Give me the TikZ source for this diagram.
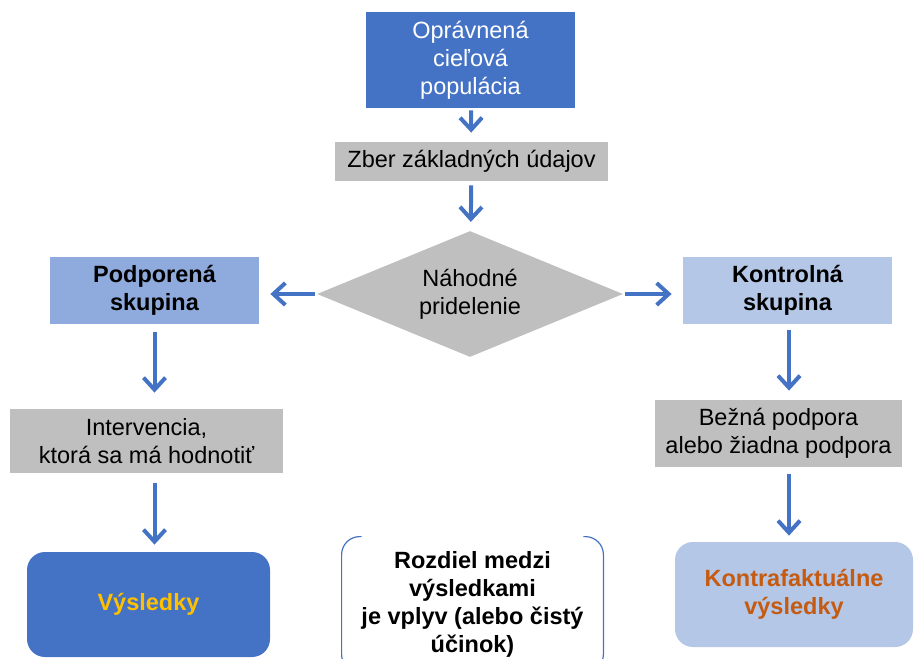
\documentclass[tikz,border=0pt]{standalone}
\usepackage{fontspec}
\setmainfont{Liberation Sans}
\usetikzlibrary{shapes.geometric,arrows.meta}

\definecolor{darkblue}{HTML}{4472C4}
\definecolor{midblue}{HTML}{8FAADC}
\definecolor{paleblue}{HTML}{B4C7E7}
\definecolor{boxgrey}{HTML}{BFBFBF}
\definecolor{gold}{HTML}{FFC000}
\definecolor{rust}{HTML}{C55A11}

\tikzset{
  flow/.style={draw=darkblue,line width=2pt,-{Straight Barb[length=6pt,width=11pt]}},
  bracket/.style={draw=darkblue,line width=0.6pt,rounded corners=9pt}
}

\begin{document}
\begin{tikzpicture}[x=0.5pt,y=-0.5pt,font=\fontsize{11.75}{14}\selectfont]
            \useasboundingbox (0,0) rectangle (914,658);
            \clip (0,0) rectangle (914,658);

            \begin{scope}[every node/.style={align=center,inner sep=0pt}]
                \node[fill=darkblue,text=white,minimum width=104.5pt,minimum height=48pt] (pop) at (470.5,60) {Oprávnená\\cieľová\\populácia};
                \node[fill=boxgrey,minimum width=136.5pt,minimum height=19.5pt] (zber) at (471.5,161.5) {Zber základných údajov};
                \node[diamond,aspect=2.4,fill=boxgrey,minimum width=153pt,minimum height=63pt] (rand) at (470,294) {Náhodné\\pridelenie};
                \node[fill=midblue,font=\fontsize{11.75}{14}\selectfont\bfseries,minimum width=104.5pt,minimum height=33.5pt] (pod) at (154.5,290.5) {Podporená\\skupina};
                \node[fill=paleblue,font=\fontsize{11.75}{14}\selectfont\bfseries,minimum width=104.5pt,minimum height=33.5pt] (kon) at (787.5,290.5) {Kontrolná\\skupina};
                \node[fill=boxgrey,minimum width=136.5pt,minimum height=32pt] (interv) at (146.5,441) {Intervencia,\\ktorá sa má hodnotiť};
                \node[fill=boxgrey,minimum width=123.5pt,minimum height=33.5pt] (bezna) at (778.5,433.5) {Bežná podpora\\alebo žiadna podpora};
                \node[fill=darkblue,rounded corners=9pt,text=gold,font=\fontsize{11.75}{14}\selectfont\bfseries,minimum width=121.5pt,minimum height=52.5pt] (vys) at (148.5,604.5) {Výsledky};
                \node[fill=paleblue,rounded corners=9pt,text=rust,font=\fontsize{11.75}{14}\selectfont\bfseries,minimum width=119pt,minimum height=52.5pt] (kontra) at (794,594.5) {Kontrafaktuálne\\výsledky};
                \node[font=\fontsize{11.75}{14}\selectfont\bfseries,minimum width=130.5pt,minimum height=67.5pt] (diff) at (472.5,604.5) {Rozdiel medzi\\výsledkami\\je vplyv (alebo čistý\\účinok)};
            \end{scope}

            % bracket pair round the middle text
            \path[bracket] ([xshift=10pt]diff.north west) -- (diff.north west) -- (diff.south west) -- ([xshift=10pt]diff.south west);
            \path[bracket] ([xshift=-10pt]diff.north east) -- (diff.north east) -- (diff.south east) -- ([xshift=-10pt]diff.south east);

            \begin{scope}
                \draw [flow,shorten <=1pt,shorten >=4.5pt] (pop) -- (zber);
                \draw [flow,shorten <=2pt,shorten >=4.5pt] (zber) -- (rand);
                \draw [flow,shorten <=1pt,shorten >=5.5pt] (rand.west) -- (rand.west -| pod.east);
                \draw [flow,shorten <=1pt,shorten >=5.5pt] (rand.east) -- (rand.east -| kon.west);
                \draw [flow,shorten <=4pt,shorten >=8pt] (pod.south) -- (pod.south |- interv.north);
                \draw [flow,shorten <=5pt,shorten >=3.5pt] (interv.south -| pod.south) -- (pod.south |- vys.north);
                \draw [flow,shorten <=3pt,shorten >=4.5pt] ([xshift=0.75pt]kon.south) -- ([xshift=0.75pt]kon.south |- bezna.north);
                \draw [flow,shorten <=3.5pt,shorten >=3pt] ([xshift=0.75pt]kon.south |- bezna.south) -- ([xshift=0.75pt]kon.south |- kontra.north);
            \end{scope}
            \end{tikzpicture}
\end{document}
